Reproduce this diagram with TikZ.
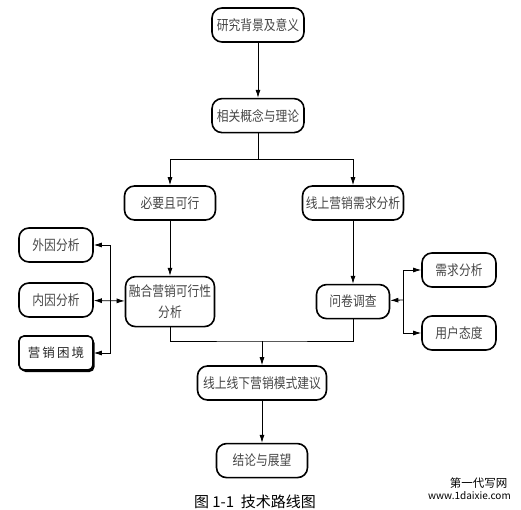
\documentclass[tikz,border=0pt]{standalone}
\usepackage{fontspec}
\usepackage{tikz}
\usetikzlibrary{
    positioning,
    arrows.meta,
    shadows
}
\newfontfamily\cjk[FakeStretch=0.84]{Noto Sans CJK SC}
\newfontfamily\cjkplain{Noto Sans CJK SC}
\definecolor{TextGray}{RGB}{70,70,70}

\begin{document}
\begin{tikzpicture}[
    x=1pt, y=-1pt,
    stage/.style={rectangle, draw, line width=1.6pt, rounded corners=10pt, minimum height=34pt, align=center, inner sep=2pt, font=\cjk\fontsize{14}{21}\selectfont, text=TextGray},
    side/.style={stage, minimum width=74pt},
    arrow/.style={-{Latex[length=8pt,width=5pt]}, line width=0.8pt},
    biarrow/.style={{Latex[length=8pt,width=5pt]}-{Latex[length=8pt,width=5pt]}, line width=0.8pt},
    line/.style={line width=0.8pt}
]
\useasboundingbox (0,0) rectangle (521,510);
% main column
\node[stage, minimum width=92pt] (bg) at (258,25) {研究背景及意义};
\node[stage, minimum width=92pt, below=55pt of bg] (theory) {相关概念与理论};
\node[stage, minimum width=91pt] (need) at (170,203) {必要且可行};
\node[stage, minimum width=101pt] (online) at (353,203) {线上营销需求分析};
\node[stage, minimum width=89pt, minimum height=50pt, below=55pt of need] (fuse) {融合营销可行性\\分析};
\node[stage, minimum width=73pt, below=63pt of online] (survey) {问卷调查};
\node[stage, minimum width=129pt] (advice) at (262,383) {线上线下营销模式建议};
\node[stage, minimum width=91pt, below=42pt of advice] (outlook) {结论与展望};
% side boxes
\node[side] (ext) at (56,245) {外因分析};
\node[side] (int) at (56,300) {内因分析};
\node[side, rounded corners=5pt, font=\cjkplain\fontsize{12.5}{14}\selectfont, text=black!85,
      drop shadow={shadow xshift=1.5pt, shadow yshift=-2pt, fill=black, opacity=1}, fill=white] (dilemma) at (56,353) {营\,销\,困\,境};
\node[side] (demand) at (459,270) {需求分析};
\node[side] (attitude) at (459,333) {用户态度};

\coordinate (split) at (258,159);
\coordinate (lhub) at (110,300);
\coordinate (rhub) at (403,300);
\coordinate (merge) at (262,341);

\draw[arrow] (bg) -- (theory);
\draw[line] (theory) -- (split);
\draw[arrow] (split) -| (need);
\draw[arrow] (split) -| (online);
\draw[arrow] (need) -- (fuse);
\draw[arrow] (online) -- (survey);
\draw[biarrow] (int) -- (fuse);
\draw[arrow] (lhub) |- (ext);
\draw[arrow] (lhub) |- (dilemma);
\draw[arrow] (rhub) -- (survey);
\draw[arrow] (rhub) |- (demand);
\draw[arrow] (rhub) |- (attitude);
\draw[line] (fuse) |- (merge) -| (survey);
\draw[arrow] (merge) -- (advice);
\draw[arrow] (advice) -- (outlook);

% caption and mark
\node[font=\cjkplain\fontsize{15}{17}\selectfont] (caption) at (255,502) {图 1-1\ \ 技术路线图};
\node[anchor=east, font=\cjkplain\fontsize{11.5}{13}\selectfont] (mark) at (511,483) {第一代写网};
\node[font=\cjkplain\fontsize{10}{12}\selectfont, below=-1pt of mark.south east, anchor=north east, inner sep=0pt] (site) {www.1daixie.com};
\end{tikzpicture}
\end{document}
